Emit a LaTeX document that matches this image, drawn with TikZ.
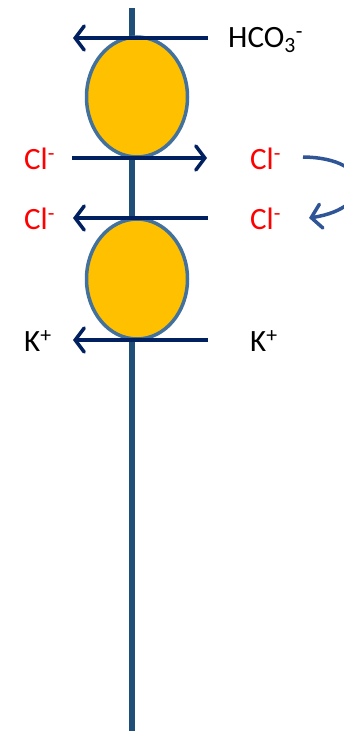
\documentclass[tikz,border=0pt]{standalone}
\usepackage{fontspec}
\setmainfont{Carlito}
\usepackage{xcolor}
\usetikzlibrary{
	shapes.geometric,
	arrows.meta
	}
\definecolor{membranecol}{RGB}{31,78,121}
\definecolor{carrierfill}{RGB}{255,192,0}
\definecolor{carrierline}{RGB}{65,113,156}
\definecolor{fluxcol}{RGB}{0,32,96}
\definecolor{recyclecol}{RGB}{47,85,151}

\begin{document}
\begin{tikzpicture}[x=1pt,y=-1pt,
	carrier/.style={ellipse,draw=carrierline,line width=3.5pt,fill=carrierfill,
		minimum width=101pt,minimum height=120pt,inner sep=0pt},
	flux/.style={draw=fluxcol,line width=3.5pt,
		-{Straight Barb[length=9pt,width=24pt,line cap=round]}},
	ion/.style={anchor=west,inner sep=0pt,font=\fontsize{31}{31}\selectfont}
	]
	\useasboundingbox (0,0) rectangle (343,731);
	% membrane
	\coordinate (memtop) at (132,8);
	\coordinate (membot) at (132,731);
	\draw[membranecol,line width=6pt] (memtop) -- (membot);
	% carriers
	\node[carrier] (ae) at (137,97) {};
	\node[carrier] (kcc) at (137,279) {};
	% ions
	\node[ion] (hco) at (228,40) {HCO\textsubscript{3}\textsuperscript{-}};
	\node[ion,text=red] (clinL) at (24,159) {Cl\textsuperscript{-}};
	\node[ion,text=red] (clinR) at (250,159) {Cl\textsuperscript{-}};
	\node[ion,text=red] (cloutL) at (24,219) {Cl\textsuperscript{-}};
	\node[ion,text=red] (cloutR) at (250,219) {Cl\textsuperscript{-}};
	\node[ion] (kL) at (24,341) {K\textsuperscript{+}};
	\node[ion] (kR) at (250,341) {K\textsuperscript{+}};
	% flux arrows
	\coordinate (a1) at (208,38);  \coordinate (a1e) at (73,38);
	\coordinate (a2) at (72,158);  \coordinate (a2e) at (207,158);
	\coordinate (a3) at (208,218); \coordinate (a3e) at (73,218);
	\coordinate (a4) at (208,340); \coordinate (a4e) at (73,340);
	\draw[flux] (a1) -- (a1e);
	\draw[flux] (a2) -- (a2e);
	\draw[flux] (a3) -- (a3e);
	\draw[flux] (a4) -- (a4e);
	% recycling of Cl-
	\coordinate (rc) at (303,157);
	\coordinate (rce) at (309,218);
	\draw[recyclecol,line width=3.5pt,-{Straight Barb[length=10pt,width=24pt,line cap=round]}]
		(rc) .. controls (375,158) and (375,208) .. (rce);
\end{tikzpicture}
\end{document}
